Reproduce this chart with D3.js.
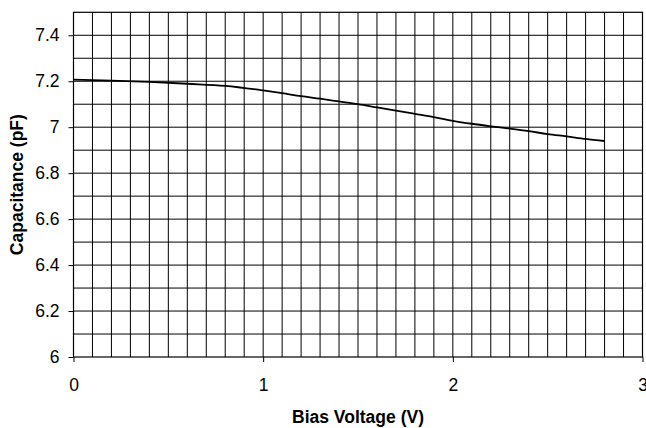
<!DOCTYPE html>
<html>
<head>
<meta charset="utf-8">
<script src="https://cdn.jsdelivr.net/npm/d3@7"></script>
<style>
  body { margin: 0; background: #fff; }
  svg { display: block; font-family: "Liberation Sans", Arial, sans-serif; }
</style>
</head>
<body>
<div id="chart"></div>
<script>
// Bias voltage (V) and capacitance (pF)
const voltage = [0, 0.2, 0.4, 0.6, 0.8, 1.0, 1.1, 1.2, 1.3, 1.4, 1.5, 1.6, 1.7, 1.8, 1.9, 2.0, 2.1, 2.2, 2.3, 2.4, 2.5, 2.6, 2.7, 2.8];
const capacitance = [7.207, 7.203, 7.197, 7.189, 7.180, 7.160, 7.148, 7.135, 7.124, 7.112, 7.100, 7.086, 7.072, 7.058, 7.044, 7.028, 7.015, 7.004, 6.994, 6.983, 6.970, 6.960, 6.949, 6.940];
const xTicks = [0, 1, 2, 3];
const yTicks = [6, 6.2, 6.4, 6.6, 6.8, 7, 7.2, 7.4];

const width = 646;
const height = 428;
const margin = { top: 12.3, right: 3.5, bottom: 71, left: 73.5 };

const svg = d3.select("#chart")
  .append("svg")
  .attr("width", width)
  .attr("height", height);

const x = d3.scaleLinear()
  .domain([0, 3])
  .range([margin.left, width - margin.right]);

const y = d3.scaleLinear()
  .domain([6, 7.5])
  .range([height - margin.bottom, margin.top]);

// grid every 0.1 on both axes
const grid = svg.append("g").attr("stroke", "#000").attr("stroke-width", 1);
grid.selectAll("line.v")
  .data(d3.range(1, 30).map(i => i / 10))
  .enter().append("line")
  .attr("class", "v")
  .attr("x1", d => x(d)).attr("x2", d => x(d))
  .attr("y1", y(6)).attr("y2", y(7.5));
grid.selectAll("line.h")
  .data(d3.range(61, 75).map(i => i / 10))
  .enter().append("line")
  .attr("class", "h")
  .attr("x1", x(0)).attr("x2", x(3))
  .attr("y1", d => y(d)).attr("y2", d => y(d));

// plot border
svg.append("rect")
  .attr("x", x(0)).attr("y", y(7.5))
  .attr("width", x(3) - x(0)).attr("height", y(6) - y(7.5))
  .attr("fill", "none").attr("stroke", "#000").attr("stroke-width", 1.2);

// axes
const xAxis = svg.append("g")
  .attr("transform", `translate(0,${y(6)})`)
  .call(d3.axisBottom(x).tickValues(xTicks).tickFormat(d3.format("")).tickSize(5).tickPadding(17));
const yAxis = svg.append("g")
  .attr("transform", `translate(${x(0)},0)`)
  .call(d3.axisLeft(y).tickValues(yTicks).tickFormat(d3.format("")).tickSize(5).tickPadding(9));

[xAxis, yAxis].forEach(a => {
  a.select(".domain").remove();
  a.selectAll(".tick line").attr("stroke", "#000");
  a.selectAll(".tick text")
    .attr("fill", "#000")
    .style("font-size", "17.5px")
    .style("font-family", "'Liberation Sans', Arial, sans-serif");
});

// curve
const pts = voltage.map((v, i) => [v, capacitance[i]]);
svg.append("path")
  .datum(pts)
  .attr("fill", "none")
  .attr("stroke", "#000")
  .attr("stroke-width", 1.8)
  .attr("d", d3.line().x(d => x(d[0])).y(d => y(d[1])).curve(d3.curveMonotoneX));

// axis titles
svg.append("text")
  .attr("x", (x(0) + x(3)) / 2)
  .attr("y", 423)
  .attr("text-anchor", "middle")
  .style("font-size", "17.5px")
  .style("font-weight", "bold")
  .text("Bias Voltage (V)");

svg.append("text")
  .attr("transform", `translate(23,${(y(6) + y(7.5)) / 2}) rotate(-90)`)
  .attr("text-anchor", "middle")
  .style("font-size", "17.5px")
  .style("font-weight", "bold")
  .text("Capacitance (pF)");
</script>
</body>
</html>
